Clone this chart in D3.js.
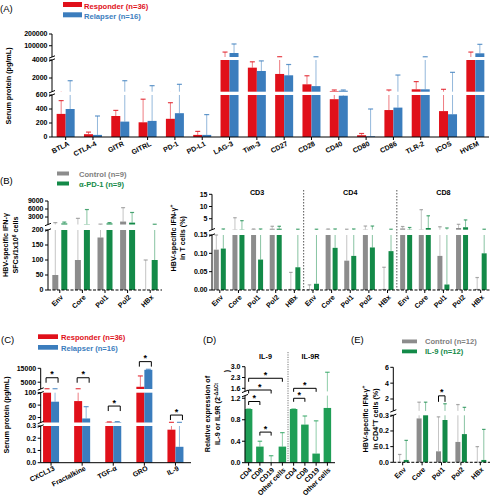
<!DOCTYPE html>
<html><head><meta charset="utf-8">
<script src="https://cdn.jsdelivr.net/npm/d3@7"></script>
<style>
body{margin:0;background:#fff;}
svg{display:block;font-family:"Liberation Sans",Arial,sans-serif;}
</style></head><body>
<svg id="c" width="492" height="500"></svg>
<script>
// ---------------- DATA ----------------
// Panel A
const catsA = ["BTLA","CTLA-4","GITR","GITRL","PD-1","PD-L1","LAG-3","Tim-3","CD27","CD28","CD40","CD80","CD86","TLR-2","ICOS","HVEM"];
const respA    = [330, 40, 300, 210, 260, 30, 4000, 3150, 2450, 1300, 540, 25, 385, 745, 370, 4000];
const respErrA = [520, 70, 380, 540, 490, 80, 46000, 3800, 6500, 2250, 670, 50, 670, 1600, 745, 46000];
const relA     = [400, 30, 220, 230, 340, 30, 38000, 2780, 2300, 1100, 590, 10, 420, 745, 325, 35500];
const relErrA  = [1700, 300, 1700, 1150, 1300, 320, 115000, 3900, 3500, 6000, 670, 400, 2330, 6000, 2630, 112000];
const ticksA = [[0,200,400,600],[2000,4000],[100000,200000]];

// Panel B (left)
const catsB = ["Env","Core","Pol1","Pol2","HBx"];
const ctrlB    = [50, 100, 175, 1300, 0];
const ctrlErrB = [900, 2500, 350, 6500, 100];
const pd1B     = [600, 300, 600, 900, 100];
const pd1ErrB  = [1100, 5800, 900, 4700, 300];
const ticksB = [[0,50,100,150,200],[3000,6000,9000]];

// Panel B (right)
const groupsBR = ["CD3","CD4","CD8"];
const ctrlBR    = [0.11, 0.6, 0.6, 0.9, 0.003, 0.002, 0.6, 0.08, 0.6, 0.003, 1.0, 0.6, 0.093, 1.2, 0.003];
const ctrlErrBR = [0.15, 5.4, 0.8, 1.9, 0.048, 0.014, 0.8, 0.7, 2.0, 0.062, 1.8, 8.7, 1.7, 2.7, 0.034];
const pd1BR     = [0.113, 0.6, 0.083, 0.9, 0.062, 0.017, 0.115, 0.093, 0.116, 0.106, 0.6, 1.2, 0.015, 1.5, 0.10];
const pd1ErrBR  = [0.8, 4.2, 0.8, 1.9, 0.7, 0.7, 0.8, 0.8, 2.0, 0.7, 1.4, 6.2, 1.2, 4.5, 0.7];
const ticksBR = [[0,0.05,0.10,0.15],[5,10,15]];

// Panel C
const catsC = ["CXCL13","Fractalkine","TGF-\u03b1","GRO","IL-9"];
const respC    = [100, 73, 5, 1700, 0.27];
const respErrC = [300, 300, 6, 9500, 4.5];
const relC     = [71, 17, 5.5, 13900, 0.13];
const relErrC  = [300, 55, 7, 14300, 4.5];
const sigC     = [8200, 8200, 57, 19800, 28];   // bracket level (data units)
const ticksC = [[0,0.1,0.2,0.3],[20,60,100],[5000,15000]];

// Panel D
const catsD = ["CD4","CD8","CD19","Other cells"];
const il9D     = [1.0, 0.3, 0.0, 0.3];
const il9ErrD  = [1.0, 0.4, 0.13, 0.56];
const il9rD    = [1.0, 0.71, 0.17, 1.02];
const il9rErrD = [1.0, 0.87, 0.78, 2.64];
const sigD = [ // [from index, to index, level]
  [0,1,1.14],[0,2,1.49],[0,3,2.25],[1,2,0.57],[4,5,1.2],[4,6,1.6]];
const ticksD = [[0,0.4,0.8,1.2],[1.6,2.3,3.0]];

// Panel E
const catsE = ["Env","Core","Pol1","Pol2","HBx"];
const ctrlE    = [0.003, 0.28, 0.07, 0.13, 0.003];
const ctrlErrE = [0.05, 1.6, 0.29, 1.3, 0.1];
const il9E     = [0.015, 0.31, 0.27, 0.18, 0.015];
const il9ErrE  = [0.14, 1.6, 1.4, 0.95, 0.21];
const sigE = 2.4;
const ticksE = [[0,0.1,0.2,0.3],[2,4,6]];

// ---------------- HELPERS ----------------
const RED="#e0101a", BLUE="#3b7dbd", GRAY="#8c8c8c", GREEN="#138a48", GREEND="#1f9e56";
const svg = d3.select("#c");
const FS = 7;

function makeSegs(specs){
  return specs.map(s=>({d:s.d, ticks:s.ticks, fmt:s.fmt||(v=>String(v)), sc:d3.scaleLinear().domain(s.d).range(s.r)}));
}
function yOf(segs, v){
  for (const s of segs) if (v>=s.d[0] && v<=s.d[1]) return s.sc(v);
  const last = segs[segs.length-1];
  if (v > last.d[1]) return last.sc(v);
  for (let i=0;i<segs.length-1;i++){
    if (v>segs[i].d[1] && v<segs[i+1].d[0]) return segs[i+1].sc(segs[i+1].d[0]);
  }
  return segs[0].sc(v);
}
function bar(g, segs, x0, w, v, color){
  segs.forEach(s=>{
    if (v > s.d[0]) {
      const top = Math.min(v, s.d[1]);
      const y1 = s.sc(top), y0 = s.sc(s.d[0]);
      g.append("rect").attr("x",x0).attr("width",w).attr("y",y1)
        .attr("height",Math.max(0,y0-y1)).attr("fill",color);
    }
  });
}
function err(g, segs, xc, v, e, color, capW, op){
  segs.forEach(s=>{
    const lo=Math.max(v,s.d[0]), hi=Math.min(e,s.d[1]);
    if (hi>lo) g.append("line").attr("x1",xc).attr("x2",xc).attr("y1",s.sc(lo)).attr("y2",s.sc(hi))
      .attr("stroke",color).attr("stroke-width",1).attr("stroke-opacity",op);
  });
  const yc = yOf(segs,e);
  g.append("line").attr("x1",xc-capW/2).attr("x2",xc+capW/2).attr("y1",yc).attr("y2",yc)
    .attr("stroke",color).attr("stroke-width",1.2).attr("stroke-opacity",Math.min(1,op+0.25));
}
function yAxis(g, segs, x){
  segs.forEach((s,i)=>{
    const yb = s.sc(s.d[0]), yt = s.sc(s.d[1]);
    g.append("line").attr("x1",x).attr("x2",x).attr("y1",yb).attr("y2",yt).attr("stroke","#000").attr("stroke-width",1);
    s.ticks.forEach(t=>{
      const y=s.sc(t);
      g.append("line").attr("x1",x-3).attr("x2",x).attr("y1",y).attr("y2",y).attr("stroke","#000");
      g.append("text").attr("x",x-4.5).attr("y",y).attr("dy","0.35em").attr("text-anchor","end")
        .attr("font-size",FS).attr("font-weight","bold").text(s.fmt(t));
    });
    if (i>0) g.append("line").attr("x1",x-3).attr("x2",x+3).attr("y1",yb+1.2).attr("y2",yb-1.2).attr("stroke","#000");
    if (i<segs.length-1) g.append("line").attr("x1",x-3).attr("x2",x+3).attr("y1",yt+1.2).attr("y2",yt-1.2).attr("stroke","#000");
  });
}
function xAxis(g, xs, cats, x0, x1, y, rot, dashed, lblDx, lblDy){
  const l = g.append("line").attr("x1",x0).attr("x2",x1).attr("y1",y).attr("y2",y).attr("stroke","#000");
  if (dashed) l.attr("stroke-dasharray","3,1.5");
  cats.forEach((c,i)=>{
    const cx = xs(i);
    g.append("line").attr("x1",cx).attr("x2",cx).attr("y1",y).attr("y2",y+3).attr("stroke","#000");
    g.append("text").attr("transform",`translate(${cx+lblDx},${y+lblDy}) rotate(${rot})`)
      .attr("text-anchor","end").attr("dy","0.35em").attr("font-size",FS).attr("font-weight","bold").text(c);
  });
}
function ytitle(g, x, y, lines){
  lines.forEach((ln,i)=>{
    const t = g.append("text").attr("transform",`translate(${x[i]},${y[i]}) rotate(-90)`)
      .attr("text-anchor","middle").attr("font-size",7.2).attr("font-weight","bold");
    ln.forEach(part=>{
      const ts = t.append("tspan").text(part.t);
      if (part.sup) ts.attr("dy",-2.5).attr("font-size",5);
      if (part.after) ts.attr("dy",2.5);
    });
  });
}
function label(x,y,t){ svg.append("text").attr("x",x).attr("y",y).attr("font-size",9.5).text(t); }
function legend(x,y,w,h,color,text,tcolor,tx,ty){
  svg.append("rect").attr("x",x).attr("y",y).attr("width",w).attr("height",h).attr("fill",color);
  svg.append("text").attr("x",tx).attr("y",ty).attr("font-size",7.6).attr("font-weight","bold").attr("fill",tcolor).text(text);
}
function bracket(g, xa, xb, y, tip){
  g.append("path").attr("d",`M${xa},${y+tip}V${y}H${xb}V${y+tip}`).attr("fill","none").attr("stroke","#000").attr("stroke-width",1);
  g.append("text").attr("x",(xa+xb)/2).attr("y",y-0.5).attr("text-anchor","middle").attr("font-size",9).attr("font-weight","bold").text("*");
}

// ---------------- PANEL A ----------------
const gA = svg.append("g");
label(0,12,"(A)");
legend(63,2,19,5,RED,"Responder (n=36)",RED,84,8.5);
legend(63,12.3,19,5,BLUE,"Relapser (n=16)",BLUE,84,18.8);
const segA = makeSegs([
  {d:[0,600], r:[137,95], ticks:ticksA[0]},
  {d:[480,4000], r:[91.7,60], ticks:ticksA[1]},
  {d:[4000,200000], r:[57,34], ticks:ticksA[2]}]);
const bA = d3.scaleBand().domain(d3.range(catsA.length)).range([52,489]);
const cA = i=>bA(i)+bA.bandwidth()/2;
catsA.forEach((c,i)=>{
  const cx=cA(i);
  err(gA,segA,cx-4.5,respA[i],respErrA[i],RED,5,0.55);
  err(gA,segA,cx+4.5,relA[i],relErrA[i],BLUE,5,0.55);
  bar(gA,segA,cx-9,9,respA[i],RED);
  bar(gA,segA,cx,9,relA[i],BLUE);
});
yAxis(gA,segA,52);
xAxis(gA,cA,catsA,52,489,137,-27,false,3,6);
ytitle(gA,[11],[86],[[{t:"Serum protein (pg/mL)"}]]);

// ---------------- PANEL B left ----------------
const gB = svg.append("g");
label(0,184,"(B)");
legend(57,171.5,12,4,GRAY,"Control (n=9)","#808080",79,176.5);
legend(57,181.5,12,4,GREEN,"\u03b1-PD-1 (n=9)",GREEN,79,186.5);
const segB = makeSegs([
  {d:[0,200], r:[290,230], ticks:ticksB[0]},
  {d:[200,9000], r:[224.5,201], ticks:ticksB[1]}]);
const bB = d3.scaleBand().domain(d3.range(5)).range([48.5,161.5]);
const cB = i=>bB(i)+bB.bandwidth()/2;
catsB.forEach((c,i)=>{
  const cx=cB(i);
  err(gB,segB,cx-4.5,ctrlB[i],ctrlErrB[i],GRAY,4,0.5);
  err(gB,segB,cx+4.5,pd1B[i],pd1ErrB[i],GREEN,4,0.5);
  bar(gB,segB,cx-7.5,6,ctrlB[i],GRAY);
  bar(gB,segB,cx+1.5,6,pd1B[i],GREEN);
});
yAxis(gB,segB,48);
xAxis(gB,cB,catsB,48,162,290,-45,true,2,6);
ytitle(gB,[8,18],[245,245],[[{t:"HBV-specific IFN-\u03b3"}],[{t:"SFCs/1x10"},{t:"6",sup:true},{t:" cells",after:true}]]);

// ---------------- PANEL B right ----------------
const gBR = svg.append("g");
const catsBR = [].concat(...groupsBR.map(()=>catsB));
const segBR = makeSegs([
  {d:[0,0.15], r:[290,235], ticks:ticksBR[0], fmt:d3.format(".2f")},
  {d:[0.5,15], r:[229.7,194.3], ticks:ticksBR[1]}]);
const bBR = d3.scaleBand().domain(d3.range(15)).range([210.5,490]);
const cBR = i=>bBR(i)+bBR.bandwidth()/2;
catsBR.forEach((c,i)=>{
  const cx=cBR(i);
  err(gBR,segBR,cx-3.5,ctrlBR[i],ctrlErrBR[i],GRAY,3.5,0.5);
  err(gBR,segBR,cx+3.5,pd1BR[i],pd1ErrBR[i],GREEN,3.5,0.5);
  bar(gBR,segBR,cx-6,5,ctrlBR[i],GRAY);
  bar(gBR,segBR,cx+1,5,pd1BR[i],GREEN);
});
[5,10].forEach(k=>{
  const x = bBR(k);
  gBR.append("line").attr("x1",x).attr("x2",x).attr("y1",190).attr("y2",290)
    .attr("stroke","#555").attr("stroke-dasharray","1.5,1.5");
});
groupsBR.forEach((g,k)=>{
  gBR.append("text").attr("x",cBR(k*5+2)).attr("y",195).attr("text-anchor","middle")
    .attr("font-size",7.2).attr("font-weight","bold").text(g);
});
yAxis(gBR,segBR,212);
xAxis(gBR,cBR,catsBR,212,490,290,-45,true,2,6);
ytitle(gBR,[175.5,184.5],[238,238],[[{t:"HBV-specific IFN-\u03b3"},{t:"+",sup:true}],[{t:"in T cells (%)"}]]);

// ---------------- PANEL C ----------------
const gC = svg.append("g");
label(1,343,"(C)");
legend(38,334.3,20,4.7,RED,"Responder (n=36)",RED,61,340);
legend(38,345,20,4.7,BLUE,"Relapser (n=16)",BLUE,61,351);
const segC = makeSegs([
  {d:[0,0.3], r:[462.7,426], ticks:ticksC[0], fmt:d3.format(".1f")},
  {d:[4,100], r:[422.5,392.7], ticks:ticksC[1]},
  {d:[100,15000], r:[389,368.3], ticks:ticksC[2]}]);
const bC = d3.scaleBand().domain(d3.range(5)).range([35.5,191]);
const cC = i=>bC(i)+bC.bandwidth()/2;
catsC.forEach((c,i)=>{
  const cx=cC(i);
  err(gC,segC,cx-4,respC[i],respErrC[i],RED,5,0.55);
  err(gC,segC,cx+4,relC[i],relErrC[i],BLUE,5,0.55);
  bar(gC,segC,cx-8,8,respC[i],RED);
  bar(gC,segC,cx,8,relC[i],BLUE);
  bracket(gC,cx-5,cx+7,yOf(segC,sigC[i]),5);
});
yAxis(gC,segC,40.7);
xAxis(gC,cC,catsC,40.7,191,462.7,-27,false,3,5);
ytitle(gC,[9],[415],[[{t:"Serum protein (pg/mL)"}]]);

// ---------------- PANEL D ----------------
const gD = svg.append("g");
label(203,343,"(D)");
const segD = makeSegs([
  {d:[0,1.25], r:[462.7,395.6], ticks:ticksD[0], fmt:d3.format(".1f")},
  {d:[1.4,3.0], r:[391.4,366.7], ticks:ticksD[1], fmt:d3.format(".1f")}]);
const catsD8 = catsD.concat(catsD);
const valsD = il9D.concat(il9rD), errsD = il9ErrD.concat(il9rErrD);
const bD = d3.scaleBand().domain(d3.range(8)).range([243,333]);
const cD = i=>bD(i)+bD.bandwidth()/2;
catsD8.forEach((c,i)=>{
  const cx=cD(i);
  err(gD,segD,cx,valsD[i],errsD[i],GREEND,4.5,0.5);
  bar(gD,segD,cx-3.75,7.5,valsD[i],GREEND);
});
gD.append("line").attr("x1",bD(4)).attr("x2",bD(4)).attr("y1",352).attr("y2",462.7)
  .attr("stroke","#777").attr("stroke-dasharray","1.2,1.2");
gD.append("text").attr("x",(cD(1)+cD(2))/2).attr("y",359).attr("text-anchor","middle").attr("font-size",7.2).attr("font-weight","bold").text("IL-9");
gD.append("text").attr("x",(cD(5)+cD(6))/2).attr("y",359).attr("text-anchor","middle").attr("font-size",7.2).attr("font-weight","bold").text("IL-9R");
sigD.forEach(s=>bracket(gD,cD(s[0]),cD(s[1]),yOf(segD,s[2]),3.5));
yAxis(gD,segD,245);
xAxis(gD,cD,catsD8,245,335,462.7,-45,false,2,6);
ytitle(gD,[210,220,229],[414,414,371],[[{t:"Relative expression of"}],[{t:"IL-9 or IL9R (2"},{t:"-\u0394\u0394Ct",sup:true}],[{t:")"}]]);

// ---------------- PANEL E ----------------
const gE = svg.append("g");
label(351,343,"(E)");
legend(402,339.5,15,3.8,GRAY,"Control (n=12)","#808080",425,344);
legend(402,349.5,15,3.8,GREEN,"IL-9 (n=12)",GREEN,425,354);
const segE = makeSegs([
  {d:[0,0.3], r:[462.3,415.3], ticks:ticksE[0], fmt:d3.format(".1f")},
  {d:[0.5,6], r:[410.9,367.3], ticks:ticksE[1]}]);
const bE = d3.scaleBand().domain(d3.range(5)).range([393,490]);
const cE = i=>bE(i)+bE.bandwidth()/2;
catsE.forEach((c,i)=>{
  const cx=cE(i);
  err(gE,segE,cx-3,ctrlE[i],ctrlErrE[i],GRAY,3.5,0.5);
  err(gE,segE,cx+3.5,il9E[i],il9ErrE[i],GREEN,3.5,0.5);
  bar(gE,segE,cx-5.5,5,ctrlE[i],GRAY);
  bar(gE,segE,cx+1,5,il9E[i],GREEN);
});
bracket(gE,cE(2)-3,cE(2)+3.5,yOf(segE,sigE),6);
yAxis(gE,segE,393.3);
xAxis(gE,cE,catsE,393.3,490,462.3,-45,true,2,6);
ytitle(gE,[367.5,377.5],[419,419],[[{t:"HBV-specific IFN-\u03b3"},{t:"+",sup:true}],[{t:"in CD4"},{t:"+",sup:true},{t:"T cells (%)",after:true}]]);
</script>
</body></html>
